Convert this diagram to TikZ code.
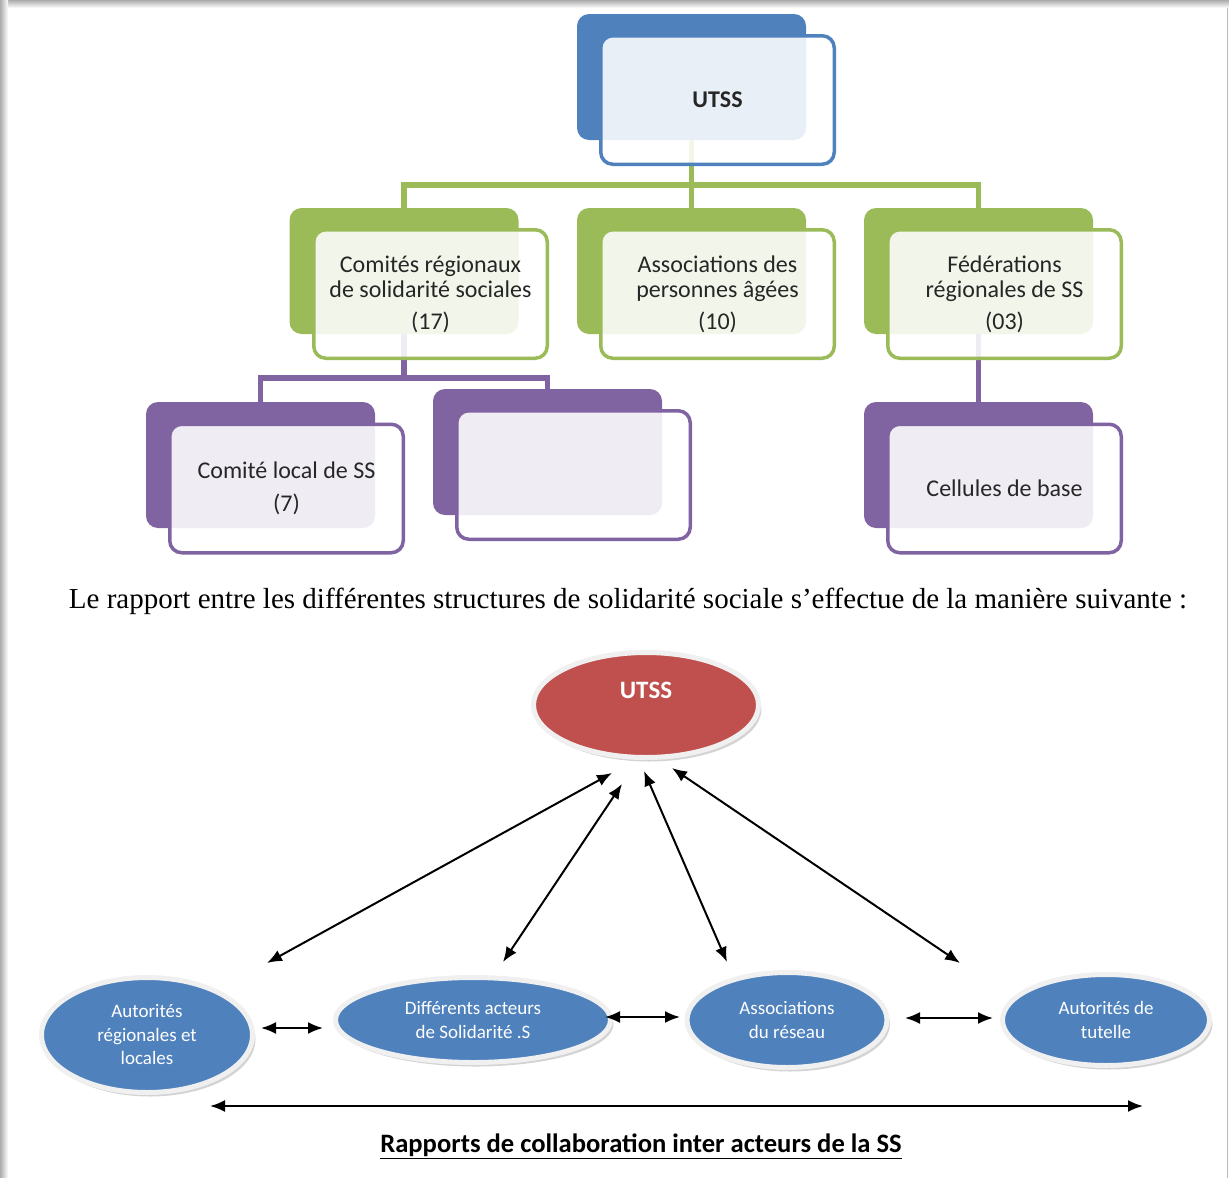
\documentclass[tikz,border=0pt]{standalone}
\usepackage{fontspec}
\setmainfont{Carlito}
\newfontfamily\phrasefont{Liberation Serif}
\usetikzlibrary{shapes.geometric,shadows,arrows.meta}

\definecolor{smartblue}{HTML}{4F81BD}
\definecolor{smartgreen}{HTML}{9BBB59}
\definecolor{smartpurple}{HTML}{8064A2}
\definecolor{smartred}{HTML}{C0504D}

\begin{document}
\begin{tikzpicture}
        [
            x = 1pt, y = -1pt,
            backbox/.style  = {shape=rectangle, rounded corners=12pt, fill=#1,
                               minimum width=229pt, minimum height=126pt},
            frontbox/.style = {shape=rectangle, rounded corners=12pt, draw=#1, line width=3.5pt,
                               fill=white, fill opacity=0.88, text opacity=1, text=black!85,
                               minimum width=233.5pt, minimum height=128.5pt, align=center,
                               font=\fontsize{24}{25}\selectfont},
            branch/.style   = {draw=#1, line width=5.5pt},
            oval/.style     = {shape=ellipse, fill=#1, draw=gray!12, line width=5pt, inner sep=0pt,
                               text=white, align=center, font=\fontsize{19}{23.5}\selectfont,
                               drop shadow={shadow xshift=3pt, shadow yshift=-4pt, opacity=0.35}},
            link/.style     = {draw, line width=2pt,
                               {Latex[length=15pt,width=12pt]}-{Latex[length=15pt,width=12pt]}},
            % every node/.style = {draw}
        ]
        \useasboundingbox (0,0) rectangle (1229,1178);
        % cadre de la page
        \shade [top color=gray!65, bottom color=white] (0,0) rectangle (1229,8);
        \shade [left color=gray!65, right color=white] (0,0) rectangle (8,1178);
        \draw [gray!55, line width=1.5pt] (1227.5,8) -- (1227.5,1178);

        % organigramme : fonds
        \node [backbox=smartblue]   (utssb)  at (691.5,77)  {};
        \node [backbox=smartgreen]  (crssb)  at (404,271)   {};
        \node [backbox=smartgreen]  (assob)  at (691.5,271) {};
        \node [backbox=smartgreen]  (fedeb)  at (978.5,271) {};
        \node [backbox=smartpurple] (localb) at (260.5,465) {};
        \node [backbox=smartpurple] (videb)  at (547.5,452) {};
        \node [backbox=smartpurple] (cellb)  at (978.5,465) {};

        \draw [branch=smartgreen]  (utssb.south) -- ++(0,45) -| (crssb.north);
        \draw [branch=smartgreen]  (utssb.south) -- ++(0,45) -| (fedeb.north);
        \draw [branch=smartgreen]  (utssb.south) -- (assob.north);
        \draw [branch=smartpurple] (crssb.south) -- ++(0,44) -| (localb.north);
        \draw [branch=smartpurple] (crssb.south) -- ++(0,44) -| (videb.north);
        \draw [branch=smartpurple] (fedeb.south) -- (cellb.north);

        % organigramme : cadres
        \node [frontbox=smartblue]   (utssf)  at (717.5,100)  {\textbf{UTSS}};
        \node [frontbox=smartgreen]  (crssf)  at (430.5,294)  {Comités régionaux\\de solidarité sociales\\[7pt](17)};
        \node [frontbox=smartgreen]  (assof)  at (717.5,294)  {Associations des\\personnes âgées\\[7pt](10)};
        \node [frontbox=smartgreen]  (fedef)  at (1004.5,294) {Fédérations\\régionales de SS\\[7pt](03)};
        \node [frontbox=smartpurple] (localf) at (286.5,488.5) {Comité local de SS\\[8pt](7)};
        \node [frontbox=smartpurple] (videf)  at (573.5,475)  {};
        \node [frontbox=smartpurple] (cellf)  at (1004.5,488.5) {Cellules de base};

        \node [font=\phrasefont\fontsize{29}{32}\selectfont] (phrase) at (628,601)
            {Le rapport entre les différentes structures de solidarité sociale s’effectue de la manière suivante :};

        % rapports entre acteurs
        \node [oval=smartred, minimum width=225pt, minimum height=105pt] (utss) at (646,705) {};
        \node [text=white, font=\fontsize{25}{25}\selectfont\bfseries] (utsstitre) at (646,690) {UTSS};
        \node [oval=smartblue, minimum width=211pt, minimum height=115pt] (autorites) at (147,1035)
            {Autorités\\régionales et\\locales};
        \node [oval=smartblue, minimum width=275pt, minimum height=85pt] (acteurs) at (473,1020)
            {Différents acteurs\\de Solidarité .S};
        \node [oval=smartblue, minimum width=200pt, minimum height=95pt] (reseau) at (787,1020)
            {Associations\\du réseau};
        \node [oval=smartblue, minimum width=207pt, minimum height=91pt] (tutelle) at (1106,1020)
            {Autorités de\\tutelle};

        \coordinate (libreg) at (267,963);
        \coordinate (libred) at (960,963);
        \coordinate (basg)   at (210,1106);
        \coordinate (basd)   at (1143,1106);

        \draw [link] ([xshift=-34pt,yshift=-13pt]utss.south) -- (libreg);
        \draw [link] ([xshift=-24pt,yshift=-24pt]utss.south) -- ([xshift=30pt,yshift=13pt]acteurs.north);
        \draw [link] ([xshift=-2pt,yshift=-11pt]utss.south) -- ([xshift=-60pt,yshift=8pt]reseau.north);
        \draw [link] ([xshift=26pt,yshift=-8pt]utss.south) -- (libred);
        \draw [link] ([xshift=6pt,yshift=7pt]autorites.east) -- ([xshift=-10pt,yshift=-8pt]acteurs.west);
        \draw [link] ([xshift=-8pt,yshift=3pt]acteurs.east) -- ([xshift=-4.5pt,yshift=3pt]reseau.west);
        \draw [link] ([xshift=15.5pt,yshift=2pt]reseau.east) -- ([xshift=-7pt,yshift=2pt]tutelle.west);
        \draw [link] (basg) -- (basd);

        \node [font=\fontsize{26.6}{30}\selectfont\bfseries] (legende) at (641,1146)
            {\underline{Rapports de collaboration inter acteurs de la SS}};
    \end{tikzpicture}
\end{document}
